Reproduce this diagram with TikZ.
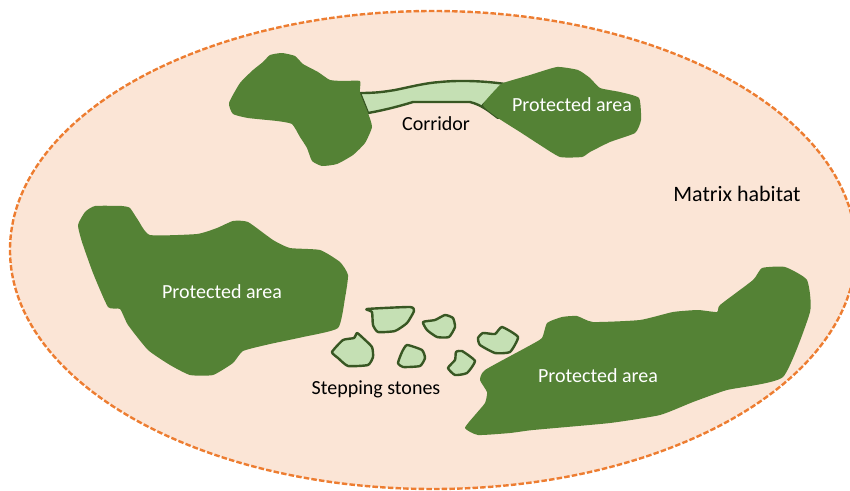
\documentclass[tikz,border=0pt]{standalone}
\usepackage{fontspec}
\setmainfont{Carlito}
\usepackage{xcolor}
\definecolor{matrixfill}{HTML}{FBE5D6}
\definecolor{matrixline}{HTML}{ED7D31}
\definecolor{parkgreen}{HTML}{548235}
\definecolor{stonefill}{HTML}{C5E0B4}
\definecolor{stoneline}{HTML}{385723}

\begin{document}
\begin{tikzpicture}[x=1pt, y=-1pt,
    every node/.append style={font=\fontsize{20}{24}\selectfont},
    matrixshape/.style={fill=matrixfill, draw=matrixline, line width=2.4pt, dash pattern=on 5.5pt off 2.2pt},
    park/.style={fill=parkgreen, smooth cycle, tension=0.3},
    stone/.style={fill=stonefill, draw=stoneline, line width=2.4pt, line join=round, smooth cycle, tension=0.3},
    corridorshape/.style={fill=stonefill, draw=stoneline, line width=2.4pt, line join=round},
    lbl/.style={text=black, inner sep=0pt},
    parklbl/.style={text=white, inner sep=0pt},
]
\useasboundingbox (0,0) rectangle (850,490);

% matrix
\draw[matrixshape] (433,250) ellipse [x radius=423, y radius=239];

% corridor
\draw[corridorshape] (360,93) .. controls (375,93) and (383,92) .. (395,90) .. controls (410,87) and (425,83) .. (440,82)
    .. controls (460,80) and (485,81) .. (505,84) -- (483,105) -- (498,118)
    .. controls (490,112) and (482,105) .. (470,102) -- (413,102) .. controls (400,106) and (385,110) .. (368,113) -- cycle;

% protected areas
\path[park] plot coordinates {(229,103) (240,83) (253,70) (263,62) (270,55) (282,53) (295,56) (303,64) (318,72) (330,80) (345,81) (360,81) (360,93) (368,113) (372,127) (365,143) (353,155) (337,164) (322,166) (312,161) (307,148) (300,137) (292,124) (277,121) (248,118) (233,114)};
\path[park] plot coordinates {(503,83) (530,75) (557,67) (578,70) (590,78) (600,88) (620,92) (639,98) (641,120) (635,133) (610,142) (590,152) (582,157) (560,157) (540,145) (520,132) (498,118) (483,105) (497,88)};
\path[park] plot coordinates {(78,225) (85,212) (95,206) (122,206) (130,208) (138,220) (150,235) (197,234) (217,228) (233,221) (248,222) (273,240) (290,248) (320,250) (340,262) (348,275) (345,298) (338,328) (303,337) (270,344) (243,351) (233,363) (213,375) (190,375) (170,365) (148,350) (128,325) (120,309) (108,307) (93,273) (82,242)};
\path[park] plot coordinates {(465,428) (475,415) (485,403) (487,392) (480,380) (485,370) (527,347) (542,338) (547,323) (562,317) (577,316) (593,322) (640,320) (673,312) (698,310) (717,312) (720,305) (753,280) (762,268) (785,267) (807,280) (810,312) (783,377) (727,390) (693,402) (660,415) (610,423) (533,430) (510,433) (478,435)};

% stepping stones
\draw[stone] plot coordinates {(367,309) (410,307) (414,311) (407,323) (395,331) (378,332) (373,325) (372,312)};
\draw[stone] plot coordinates {(423,322) (435,320) (445,315) (453,318) (455,327) (449,337) (437,337) (427,330)};
\draw[stone] plot coordinates {(332,352) (343,340) (354,338) (357,333) (363,338) (372,347) (373,357) (368,365) (348,366) (338,358)};
\draw[stone] plot coordinates {(407,345) (422,350) (425,358) (420,366) (403,367) (398,363) (402,352)};
\draw[stone] plot coordinates {(456,352) (462,351) (475,361) (467,373) (455,375) (448,368) (455,360)};
\draw[stone] plot coordinates {(478,338) (483,333) (495,334) (502,327) (518,337) (510,352) (495,353) (480,345)};

% labels
\node[parklbl] (parkA) at (572,105) {Protected area};
\node[parklbl] (parkB) at (222,292) {Protected area};
\node[parklbl] (parkC) at (598,376) {Protected area};
\node[lbl] (corridor) at (436,124) {Corridor};
\node[lbl, font=\fontsize{22}{26}\selectfont] (matrixlbl) at (737,194) {Matrix habitat};
\node[lbl] (stones) at (376,389) {Stepping stones};
\end{tikzpicture}
\end{document}
